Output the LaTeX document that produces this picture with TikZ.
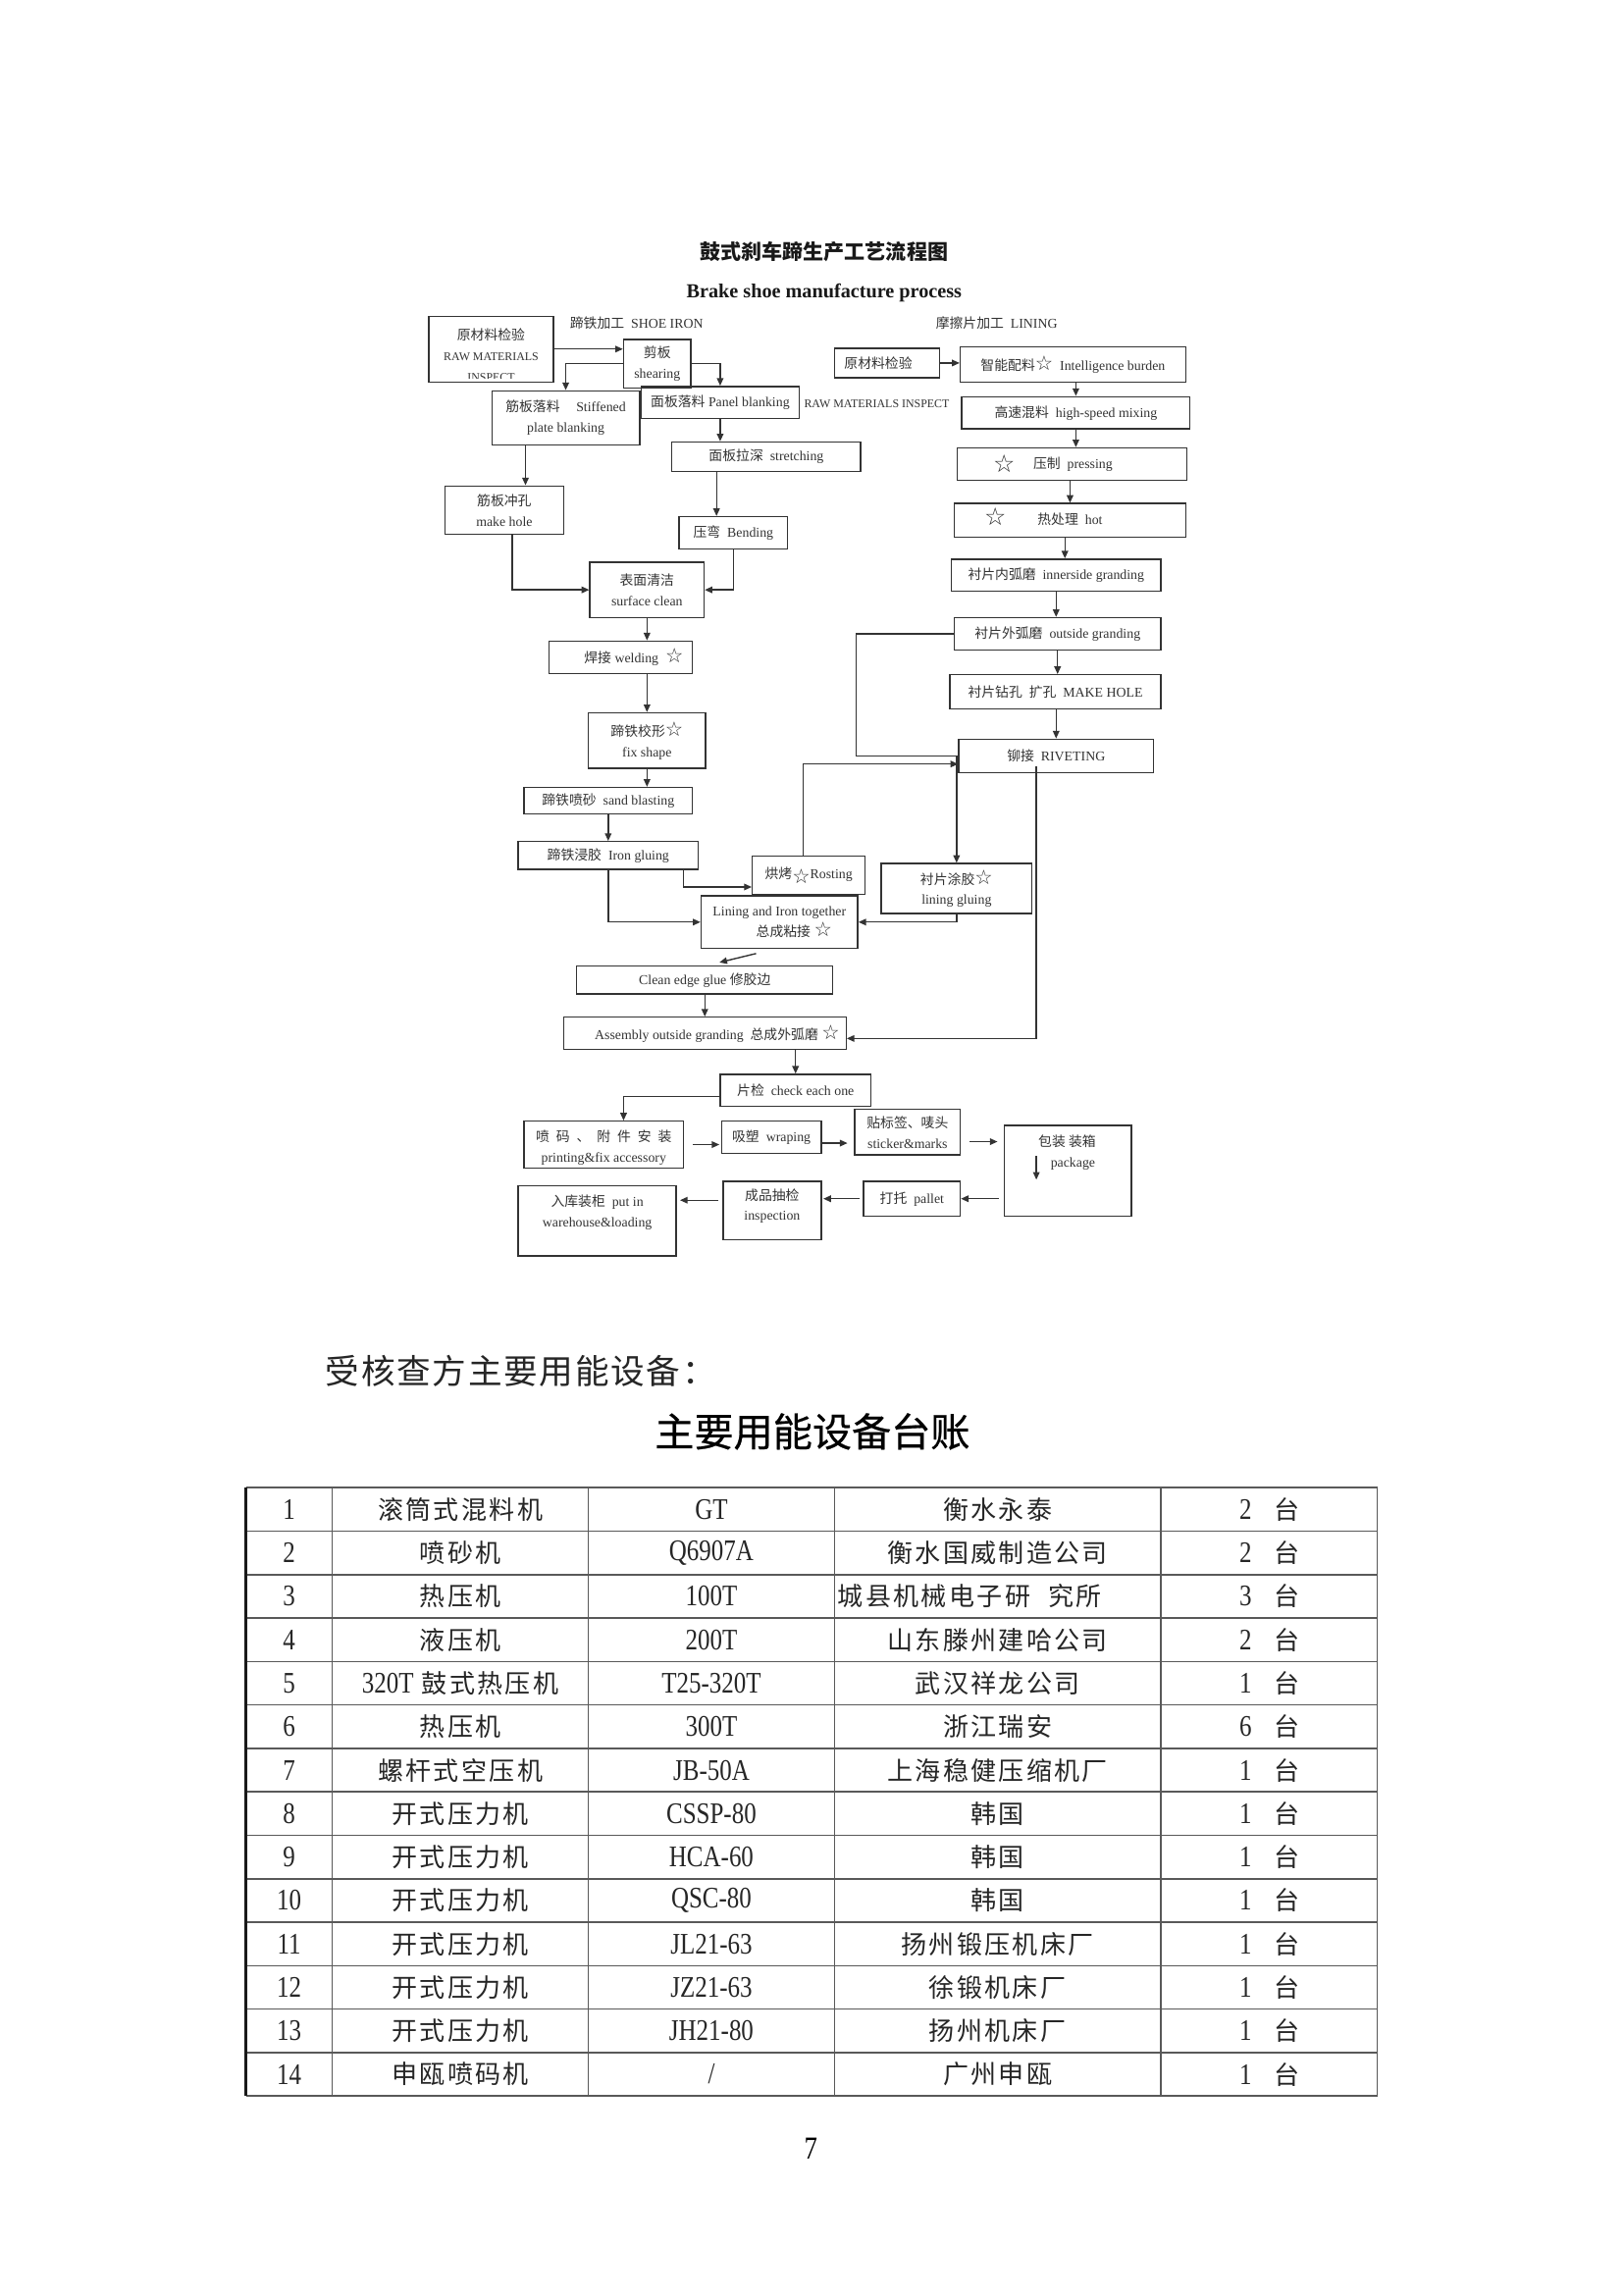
\documentclass[tikz,border=0pt]{standalone}
\usepackage{fontspec}
\setmainfont{Liberation Serif}
\newfontfamily\cjk{Noto Sans CJK SC}
\newfontfamily\cjktab[LetterSpace=9]{Noto Sans CJK SC}
\newfontfamily\cjkhead[LetterSpace=5]{Noto Sans CJK SC}
\newfontfamily\cjkbig[FakeBold=0.5]{Noto Sans CJK SC}
\newfontfamily\numf[FakeStretch=0.82]{Liberation Serif}
\newfontfamily\symf{DejaVu Sans}
\usetikzlibrary{arrows.meta,positioning,calc}
\newcommand\zh[1]{{\cjk #1}}
\newcommand\stx{{\symf\fontsize{7.4}{7.4}\selectfont ☆}}
\newcommand\stl{{\symf\fontsize{9}{9}\selectfont ☆}}
\newcommand\slashmark{/}
\def\pxu{0.18936mm}

\begin{document}
\begin{tikzpicture}[x=\pxu,y=-\pxu]
\tikzset{bx/.style 2 args={draw=black!80,line width=0.5pt,minimum width=#1*\pxu,minimum height=#2*\pxu,inner sep=0pt,align=center,text=black!80,font=\fontsize{5}{7.5}\selectfont},
  lb/.style={inner sep=0pt,align=center,text=black!80,font=\fontsize{5}{7.5}\selectfont},
  arr/.style={draw=black!80,line width=0.5pt,-{Triangle[length=2.8pt,width=2.4pt]}},
  tb/.style={draw=black!65,line width=0.55pt},
  cell/.style={inner sep=0pt,text=black!85}}
\fill[white] (0,0) rectangle (1109,1568);
\useasboundingbox (0,0) rectangle (1109,1568);

% titles
\node[inner sep=0pt,text=black!90,font=\cjk\bfseries\fontsize{7.6}{8}\selectfont] (ttlzh) at (563,172) {鼓式刹车蹄生产工艺流程图};
\node[inner sep=0pt,text=black!90,font=\bfseries\fontsize{7.3}{8}\selectfont] (ttlen) at (563,200) {Brake shoe manufacture process};
\node[lb,anchor=west] (shoelbl) at (389,221) {\zh{蹄铁加工}\ \ SHOE IRON};
\node[lb,anchor=west] (linlbl) at (639,221) {\zh{摩擦片加工}\ \ LINING};

% shoe iron
\node[bx={85}{45}] (raw) at (335.5,238.5) {};
\begin{scope}
\clip ($(raw.south west)+(0,-3)$) rectangle (raw.north east);
\node[lb] (rawtxt) at (335.5,242.5) {\zh{原材料检验}\\{\fontsize{4.3}{7.5}\selectfont RAW MATERIALS}\\{\fontsize{4.3}{7.5}\selectfont INSPECT}};
\end{scope}
\node[bx={46}{33}] (shear) at (449,248.5) {\zh{剪板}\\shearing};
\node[bx={101}{37}] (stiff) at (386.5,285.5) {\zh{筋板落料}\hspace{6pt}Stiffened\\plate blanking};
\node[bx={108}{22}] (panel) at (492,275) {\zh{面板落料} Panel blanking};
\node[lb,anchor=west,font=\fontsize{4.3}{5}\selectfont] (rawlbl) at (549,276) {RAW MATERIALS INSPECT};
\node[bx={129}{20}] (stretch) at (523.5,312) {\zh{面板拉深}\ \ stretching};
\node[bx={81}{33}] (mkhole) at (344.5,348.5) {\zh{筋板冲孔}\\make hole};
\node[bx={74}{22}] (bend) at (501,364) {\zh{压弯}\ \ Bending};
\node[bx={78}{38}] (clean) at (442,403) {\zh{表面清洁}\\surface clean};
\node[bx={98}{22}] (weld) at (424,449) {};
\node[lb] (weldtxt) at (433,449) {\zh{焊接} welding\ \ \stx};
\node[bx={80}{38}] (fix) at (442,506) {\zh{蹄铁校形}\stx\\fix shape};
\node[bx={115}{18}] (sand) at (415.5,547) {\zh{蹄铁喷砂}\ \ sand blasting};
\node[bx={123}{19}] (irong) at (415.5,584.5) {\zh{蹄铁浸胶}\ \ Iron gluing};
\node[bx={77}{26}] (rost) at (552.5,598) {\zh{烘烤}\raisebox{-2pt}{\stx}Rosting};
\node[bx={107}{36}] (together) at (532.5,630) {Lining and Iron together\\\hspace*{10.8pt}\zh{总成粘接}\ \stx};
\node[bx={103}{34}] (lglue) at (653.5,607) {\zh{衬片涂胶}\stx\\lining gluing};
\node[bx={175}{19}] (cedge) at (481.5,669.5) {Clean edge glue \zh{修胶边}};
\node[bx={193}{22}] (asm) at (481.5,706) {};
\node[lb] (asmtxt) at (490,706) {Assembly outside granding\ \ \zh{总成外弧磨}\ \stx};
\node[bx={103}{22}] (check) at (543.5,745) {\zh{片检}\ \ check each one};
\node[bx={109}{32}] (print) at (412.5,782) {};
\begin{scope}
\clip ($(print.south west)+(0,-3)$) rectangle (print.north east);
\node[lb] (printtxt) at (412.5,784) {\zh{喷\hspace{2.5pt}码\hspace{2.5pt}、\hspace{2.5pt}附\hspace{2.5pt}件\hspace{2.5pt}安\hspace{2.5pt}装}\\printing\&fix accessory};
\end{scope}
\node[bx={68}{22}] (wrap) at (527,777) {\zh{吸塑}\ \ wraping};
\node[bx={72}{31}] (sticker) at (620,773.5) {\zh{贴标签、唛头}\\sticker\&marks};
\node[bx={87}{62}] (pkg) at (729.5,800) {};
\node[lb] (pkgtxt) at (729,780) {\zh{包装\ 装箱}};
\node[lb] (pkgen) at (733,795) {package};
\node[bx={66}{24}] (pallet) at (623,819) {\zh{打托}\ \ pallet};
\node[bx={67}{40}] (insp) at (527.5,827) {};
\node[lb] (insptxt) at (527.5,824) {\zh{成品抽检}\\inspection};
\node[bx={108}{48}] (ware) at (408,834) {};
\node[lb] (waretxt) at (408,828.5) {\zh{入库装柜}\ \ put in\\warehouse\&loading};

% lining
\node[bx={72}{20}] (lraw) at (606,248) {};
\node[lb] (lrawtxt) at (600,248) {\zh{原材料检验}};
\node[bx={154}{24}] (intel) at (733,249) {\zh{智能配料}\stx\ \ Intelligence burden};
\node[bx={156}{22}] (mix) at (735,282) {\zh{高速混料}\ \ high-speed mixing};
\node[bx={157}{22}] (press) at (732.5,317) {};
\node[lb] (pressst) at (686,317) {\stl};
\node[lb] (presstxt) at (733,317) {\zh{压制}\ \ pressing};
\node[bx={158}{23}] (hot) at (731,355.5) {};
\node[lb] (hotst) at (680,353) {\stl};
\node[lb] (hottxt) at (731,355) {\zh{热处理}\ \ hot};
\node[bx={143}{22}] (inner) at (721.5,393) {\zh{衬片内弧磨}\ \ innerside granding};
\node[bx={141}{22}] (og) at (722.5,433) {\zh{衬片外弧磨}\ \ outside granding};
\node[bx={144}{23.5}] (mh) at (721,472.75) {\zh{衬片钻孔}\ \ \zh{扩孔}\ \ MAKE HOLE};
\node[bx={133}{23}] (rivet) at (721.5,516.5) {\zh{铆接}\ \ RIVETING};

% connectors, shoe iron
\draw[arr] (raw.east) -- (raw.east -| shear.west);
\draw[arr] (shear.west) -| (stiff.north);
\draw[arr] (shear.east) -| (panel.north);
\draw[arr] (panel.south) -- (panel.south |- stretch.north);
\draw[arr] ($(bend.north |- stretch.south)+(-11.5,0)$) -- ([xshift=-11.5*\pxu]bend.north);
\draw[arr] ($(mkhole.north |- stiff.south)+(14.5,0)$) -- ([xshift=14.5*\pxu]mkhole.north);
\draw[arr] ([xshift=5.5*\pxu]mkhole.south) |- (clean.west);
\draw[arr] (bend.south) |- (clean.east);
\draw[arr] (clean.south) -- (clean.south |- weld.north);
\draw[arr] (weld.south -| fix.north) -- (fix.north);
\draw[arr] (fix.south) -- (fix.south |- sand.north);
\draw[arr] (sand.south) -- (sand.south |- irong.north);
\draw[arr] ([xshift=51.5*\pxu]irong.south) |- ([yshift=-8*\pxu]rost.west);
\draw[arr] (irong.south) |- (together.west);
\draw[arr] (lglue.south) |- (together.east);
\draw[arr] ([xshift=-16*\pxu,yshift=-3*\pxu]together.south) -- ([xshift=10*\pxu,yshift=2*\pxu]cedge.north);
\draw[arr] (cedge.south) -- (asm.north);
\draw[arr] (asm.south -| check.north) -- (check.north);
\draw[arr] ([yshift=-4*\pxu]check.west) -| ([xshift=13.5*\pxu]print.north);
\draw[arr] ([xshift=6*\pxu]print.east) -- ++(18,0);
\draw[arr] ([yshift=-4*\pxu]wrap.east) -- ++(17.5,0);
\draw[arr] ([xshift=6*\pxu,yshift=-6.5*\pxu]sticker.east) -- ++(19,0);
\draw[arr] ([xshift=-21.5*\pxu,yshift=10*\pxu]pkg.center) -- ++(0,16);
\draw[arr] ($(pkg.west |- pallet.east)+(-3,0)$) -- (pallet.east);
\draw[arr] ([xshift=-2*\pxu]pallet.west) -- ($(pallet.west -| insp.east)+(1,0)$);
\draw[arr] ([xshift=-3*\pxu,yshift=7*\pxu]insp.west) -- ++(-26,0);

% connectors, lining
\draw[arr] (lraw.east) -- (lraw.east -| intel.west);
\draw[arr] (intel.south -| mix.north) -- (mix.north);
\draw[arr] (mix.south) -- (mix.south |- press.north);
\draw[arr] (press.south -| hot.north) -- (hot.north);
\draw[arr] ([xshift=-3.5*\pxu]hot.south) -- ($(hot.south |- inner.north)+(-3.5,0)$);
\draw[arr] (inner.south) -- (inner.south |- og.north);
\draw[arr] (og.south) -- (og.south |- mh.north);
\draw[arr] (mh.south -| rivet.north) -- (rivet.north);
\draw[arr] (og.west) -- ([xshift=-66.5*\pxu]og.west) |- (lglue.north |- rivet.center) -- (lglue.north);
\draw[arr] ([xshift=-4*\pxu]rost.north) |- ([yshift=-5.5*\pxu]rivet.west);
\draw[arr] ([xshift=-13.5*\pxu,yshift=5*\pxu]rivet.south) |- ([yshift=-3.5*\pxu]asm.east);

% equipment ledger
\node[inner sep=0pt,anchor=west,text=black!85,font=\cjkhead\fontsize{12.5}{14}\selectfont] (head) at (222,937) {受核查方主要用能设备：};
\node[inner sep=0pt,text=black,font=\cjkbig\fontsize{14.5}{16}\selectfont] (ledger) at (555,978) {主要用能设备台账};
\foreach \i in {0,...,14}{\draw[tb] (168,{1016.4+29.69*\i}) -- (941,{1016.4+29.69*\i});}
\foreach \cx in {227,402,570,793,941}{\draw[tb] (\cx,1016.4) -- (\cx,1432);}
\draw[black!90,line width=1.3pt] (168,1016.4) -- (168,1432);
\foreach \nn/\nm/\md/\mk/\qq [count=\rw] in {1/滚筒式混料机/GT/衡水永泰/2,
  2/喷砂机/Q6907A/衡水国威制造公司/2,
  3/热压机/100T//3,
  4/液压机/200T/山东滕州建哈公司/2,
  5/{{\numf\fontsize{11}{12}\selectfont 320T}\ 鼓式热压机}/T25-320T/武汉祥龙公司/1,
  6/热压机/300T/浙江瑞安/6,
  7/螺杆式空压机/JB-50A/上海稳健压缩机厂/1,
  8/开式压力机/CSSP-80/韩国/1,
  9/开式压力机/HCA-60/韩国/1,
  10/开式压力机/QSC-80/韩国/1,
  11/开式压力机/JL21-63/扬州锻压机床厂/1,
  12/开式压力机/JZ21-63/徐锻机床厂/1,
  13/开式压力机/JH21-80/扬州机床厂/1,
  14/申瓯喷码机/\slashmark/广州申瓯/1}{
  \pgfmathsetmacro\ry{1016.4+29.69*(\rw-0.5)}
  \node[cell,font=\numf\fontsize{11}{12}\selectfont] (no\rw) at (197.5,\ry) {\nn};
  \node[cell,font=\cjktab\fontsize{9.4}{11}\selectfont] (nm\rw) at (314.5,\ry) {\nm};
  \node[cell,font=\numf\fontsize{11}{12}\selectfont] (md\rw) at (486,\ry) {\md};
  \node[cell,font=\cjktab\fontsize{9.4}{11}\selectfont] (mk\rw) at (681.5,\ry) {\mk};
  \node[cell,font=\numf\fontsize{11}{12}\selectfont] (qq\rw) at (851,\ry) {\qq};
  \node[cell,font=\cjktab\fontsize{9.4}{11}\selectfont] (tai\rw) at (879,\ry) {台};
}
\node[cell,anchor=west,font=\cjktab\fontsize{9.4}{11}\selectfont] (mkthree) at (572,{1016.4+29.69*2.5}) {城县机械电子研\hspace{0.7em}究所};
\node[inner sep=0pt,font=\numf\fontsize{11.8}{13}\selectfont] (pgno) at (554,1468) {7};
\end{tikzpicture}
\end{document}
